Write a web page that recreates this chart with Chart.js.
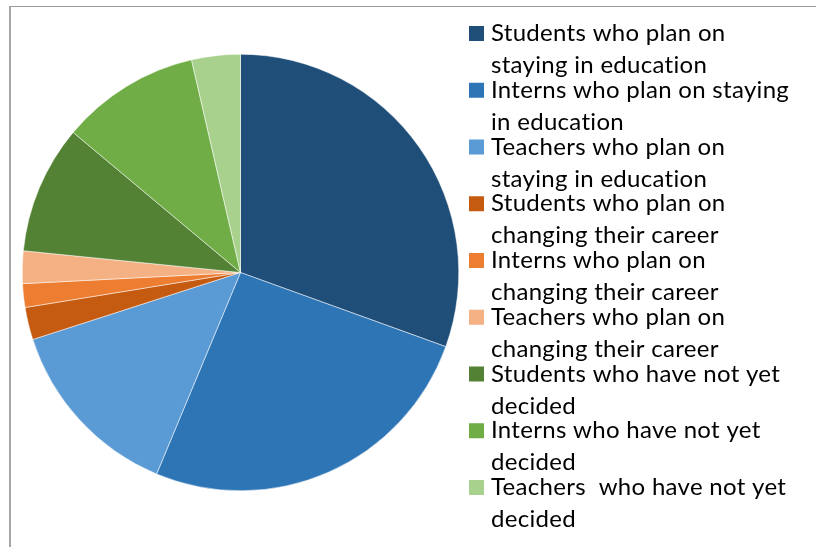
<!DOCTYPE html>
<html>
<head>
<meta charset="utf-8">
<script src="https://cdn.jsdelivr.net/npm/chart.js@4.4.1/dist/chart.umd.min.js"></script>
<style>
  html, body { margin: 0; padding: 0; background: #ffffff; overflow: hidden; }
  #wrap { position: relative; width: 816px; height: 547px; }
  #frame { position: absolute; left: 9px; top: 6px; width: 900px; height: 700px;
           border-left: 2px solid #a6a6a6; border-top: 1px solid #9a9a9a; box-sizing: border-box; }
  canvas { position: absolute; left: 0; top: 0; }
</style>
</head>
<body>
<div id="wrap">
  <div id="frame"></div>
  <canvas id="c" width="816" height="547"></canvas>
</div>
<script>
// Categories (legend labels, as wrapped lines)
const categories = [
  ["Students who plan on", "staying in education"],
  ["Interns who plan on staying", "in education"],
  ["Teachers who plan on", "staying in education"],
  ["Students who plan on", "changing their career"],
  ["Interns who plan on", "changing their career"],
  ["Teachers who plan on", "changing their career"],
  ["Students who have not yet", "decided"],
  ["Interns who have not yet", "decided"],
  ["Teachers  who have not yet", "decided"]
];
// Share of each group (percent)
const shares = [30.5, 25.75, 13.75, 2.4, 1.75, 2.4, 9.5, 10.3, 3.6];
// Slice colours
const sliceColors = ["#1F4E79", "#2E75B6", "#5B9BD5", "#C55A11", "#ED7D31", "#F4B183", "#548235", "#70AD47", "#A9D18E"];

const legendPlugin = {
  id: "wrappedLegend",
  afterDraw(chart) {
    const ctx = chart.ctx;
    const labels = chart.data.labels;
    const cols = chart.data.datasets[0].backgroundColor;
    ctx.save();
    ctx.font = "24px Lato";
    if ("letterSpacing" in ctx) ctx.letterSpacing = "0.3px";
    ctx.fillStyle = "#000000";
    ctx.textBaseline = "alphabetic";
    ctx.textAlign = "left";
    const x0 = 469, box = 15, textX = 491;
    const firstBase = 41, pitch = 56.75, lineGap = 32;
    labels.forEach((lines, i) => {
      const base = firstBase + i * pitch;
      ctx.fillStyle = cols[i];
      ctx.fillRect(x0, base - box, box, box);
      ctx.fillStyle = "#000000";
      lines.forEach((ln, j) => ctx.fillText(ln, textX, base + j * lineGap));
    });
    ctx.restore();
  }
};

new Chart(document.getElementById("c"), {
  type: "pie",
  data: {
    labels: categories,
    datasets: [{
      data: shares,
      backgroundColor: sliceColors,
      borderColor: "#ffffff",
      borderWidth: 0.5
    }]
  },
  options: {
    responsive: false,
    animation: false,
    layout: { padding: { left: 22, top: 54, right: 357, bottom: 56 } },
    plugins: { legend: { display: false }, tooltip: { enabled: false } }
  },
  plugins: [legendPlugin]
});
</script>
</body>
</html>
